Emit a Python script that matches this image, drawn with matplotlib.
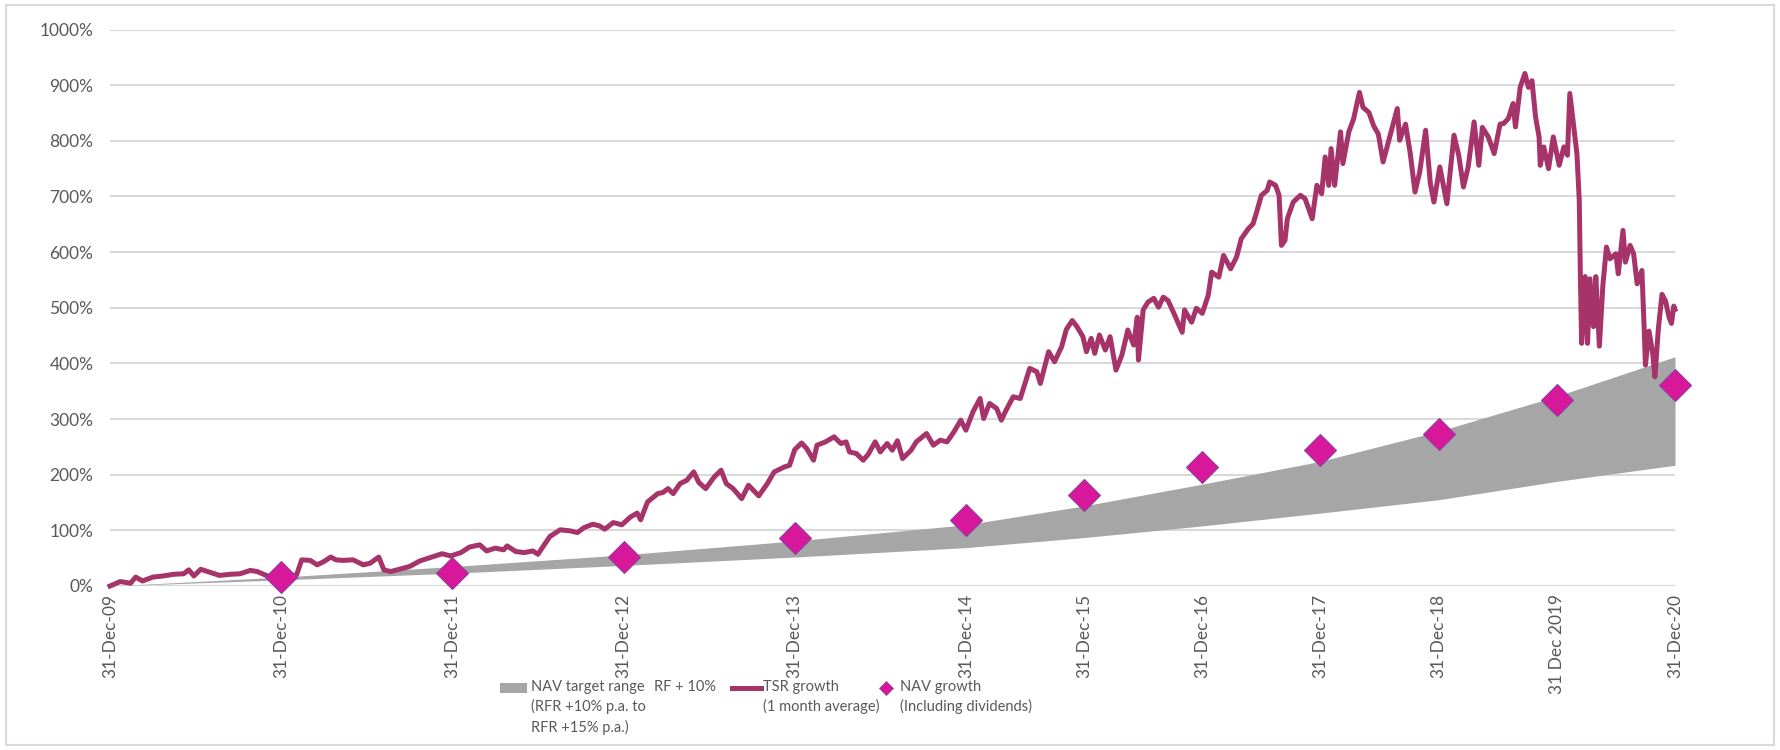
import numpy as np
import matplotlib
matplotlib.use("Agg")
import matplotlib.pyplot as plt
from matplotlib.lines import Line2D
from matplotlib.patches import Rectangle

plt.rcParams['font.family'] = ['Lato', 'DejaVu Sans']

# year-end tick labels (31 Dec 2009 .. 31 Dec 2020)
year_labels = ["31-Dec-09", "31-Dec-10", "31-Dec-11", "31-Dec-12", "31-Dec-13",
               "31-Dec-14", "31-Dec-15", "31-Dec-16", "31-Dec-17", "31-Dec-18",
               "31 Dec 2019", "31-Dec-20"]
year_num = [2010, 2011, 2012, 2013, 2014, 2015, 2016, 2017, 2018, 2019, 2020, 2021]
# observations per year in the source sheet (calendar days, later trading days)
obs_per_year = [365, 365, 365, 365, 365, 252, 252, 252, 252, 252, 252]

# NAV target range (RFR +10% p.a. to RFR +15% p.a.) at each year end, %
band_low = [0, 11, 23, 37, 52, 69, 87, 108, 131, 155, 188, 217]
band_high = [0, 16, 35, 56, 81, 110, 144, 183, 224, 278, 341, 412]

# NAV growth incl. dividends at year ends Dec-10 .. Dec-20, %
nav_pct = [17, 24, 52, 86, 119, 163, 214, 245, 274, 334, 361]

# TSR growth (1 month average): decimal year, %
tsr_year = [
    2010.00, 2010.06, 2010.12, 2010.15, 2010.19, 2010.25, 2010.31, 2010.37, 2010.43, 2010.46,
    2010.49, 2010.53, 2010.58, 2010.64, 2010.70, 2010.76, 2010.82, 2010.86, 2010.92, 2010.95,
    2011.00, 2011.05, 2011.09, 2011.12, 2011.17, 2011.21, 2011.25, 2011.29, 2011.32, 2011.36,
    2011.42, 2011.48, 2011.52, 2011.57, 2011.60, 2011.64, 2011.69, 2011.75, 2011.81, 2011.89,
    2011.94, 2011.99, 2012.05, 2012.10, 2012.16, 2012.20, 2012.25, 2012.30, 2012.32, 2012.37,
    2012.42, 2012.47, 2012.50, 2012.53, 2012.57, 2012.63, 2012.69, 2012.73, 2012.77, 2012.82,
    2012.86, 2012.89, 2012.94, 2012.99, 2013.04, 2013.08, 2013.10, 2013.14, 2013.20, 2013.23,
    2013.26, 2013.29, 2013.33, 2013.37, 2013.41, 2013.44, 2013.48, 2013.53, 2013.57, 2013.60,
    2013.64, 2013.69, 2013.73, 2013.79, 2013.84, 2013.88, 2013.94, 2013.97, 2014.00, 2014.04,
    2014.07, 2014.11, 2014.13, 2014.18, 2014.23, 2014.27, 2014.30, 2014.32, 2014.36, 2014.40,
    2014.43, 2014.47, 2014.50, 2014.54, 2014.57, 2014.60, 2014.63, 2014.68, 2014.71, 2014.77,
    2014.81, 2014.85, 2014.89, 2014.93, 2014.97, 2015.00, 2015.06, 2015.12, 2015.15, 2015.20,
    2015.26, 2015.30, 2015.34, 2015.40, 2015.46, 2015.54, 2015.60, 2015.63, 2015.70, 2015.75,
    2015.81, 2015.85, 2015.90, 2015.94, 2015.99, 2016.02, 2016.06, 2016.09, 2016.13, 2016.18,
    2016.22, 2016.27, 2016.32, 2016.37, 2016.42, 2016.45, 2016.46, 2016.50, 2016.54, 2016.59,
    2016.63, 2016.67, 2016.71, 2016.76, 2016.83, 2016.85, 2016.91, 2016.95, 2017.00, 2017.05,
    2017.08, 2017.14, 2017.18, 2017.24, 2017.29, 2017.33, 2017.39, 2017.43, 2017.46, 2017.50,
    2017.55, 2017.57, 2017.62, 2017.65, 2017.67, 2017.70, 2017.72, 2017.77, 2017.83, 2017.87,
    2017.93, 2017.97, 2018.01, 2018.04, 2018.07, 2018.09, 2018.12, 2018.17, 2018.19, 2018.24,
    2018.28, 2018.33, 2018.36, 2018.41, 2018.45, 2018.49, 2018.53, 2018.59, 2018.65, 2018.67,
    2018.72, 2018.76, 2018.80, 2018.84, 2018.89, 2018.93, 2018.96, 2019.01, 2019.07, 2019.13,
    2019.17, 2019.21, 2019.25, 2019.30, 2019.34, 2019.37, 2019.42, 2019.47, 2019.52, 2019.55,
    2019.59, 2019.63, 2019.65, 2019.69, 2019.73, 2019.76, 2019.79, 2019.82, 2019.85, 2019.86,
    2019.89, 2019.93, 2019.97, 2020.02, 2020.06, 2020.09, 2020.11, 2020.14, 2020.17, 2020.19,
    2020.20, 2020.21, 2020.24, 2020.26, 2020.28, 2020.31, 2020.33, 2020.36, 2020.39, 2020.42,
    2020.45, 2020.50, 2020.52, 2020.56, 2020.58, 2020.62, 2020.65, 2020.68, 2020.72, 2020.74,
    2020.75, 2020.78, 2020.81, 2020.83, 2020.86, 2020.89, 2020.92, 2020.95, 2020.97, 2020.99,
    2021.00]
tsr_pct = [
    0, 8, 5, 16, 9, 16, 18, 21, 22, 29,
    18, 30, 25, 19, 21, 22, 28, 26, 18, 17,
    17, 18, 20, 47, 46, 38, 44, 52, 47, 46,
    47, 38, 41, 52, 29, 26, 30, 35, 45, 53,
    58, 54, 60, 70, 74, 63, 68, 65, 72, 62,
    60, 63, 57, 71, 89, 101, 99, 96, 105, 111,
    108, 102, 114, 110, 124, 131, 119, 151, 166, 168,
    175, 166, 184, 190, 205, 186, 175, 196, 208, 184,
    175, 157, 181, 162, 184, 205, 214, 217, 245, 257,
    247, 226, 253, 259, 268, 256, 259, 241, 238, 226,
    237, 259, 241, 256, 244, 261, 229, 244, 259, 274,
    253, 262, 259, 277, 298, 280, 313, 337, 301, 328,
    319, 298, 316, 340, 337, 391, 385, 364, 421, 403,
    430, 461, 477, 466, 448, 421, 445, 418, 451, 424,
    448, 388, 415, 460, 433, 483, 406, 496, 510, 517,
    501, 519, 513, 490, 456, 496, 474, 499, 490, 522,
    564, 555, 594, 570, 591, 624, 642, 651, 672, 702,
    711, 726, 720, 702, 612, 621, 660, 690, 702, 696,
    660, 720, 705, 771, 720, 786, 720, 816, 759, 816,
    839, 887, 860, 851, 827, 812, 762, 810, 858, 801,
    830, 777, 708, 744, 819, 723, 690, 753, 687, 810,
    774, 717, 753, 834, 756, 824, 807, 777, 830, 831,
    840, 867, 825, 896, 921, 896, 908, 843, 807, 756,
    789, 750, 807, 756, 789, 774, 885, 831, 777, 693,
    549, 436, 556, 436, 552, 466, 556, 431, 541, 609,
    588, 597, 561, 639, 582, 612, 597, 543, 567, 458,
    397, 458, 420, 376, 464, 524, 512, 483, 472, 503,
    497]

TSR_COLOR = '#A6346A'
NAV_COLOR = '#D8189B'
BAND_COLOR = '#A6A6A6'
TEXT_COLOR = '#595959'
GRID_COLOR = '#D9D9D9'

# category-style axis: each observation takes the same width
edges = np.concatenate([[0], np.cumsum(obs_per_year)])


def to_pos(t):
    return np.interp(t, year_num, edges)


W, H = 1780, 750
fig = plt.figure(figsize=(W / 100, H / 100), dpi=100)
ax = fig.add_axes([110 / W, 1 - 586 / H, (1675 - 110) / W, (586 - 29.5) / H])

ax.fill_between(edges, band_low, band_high, color=BAND_COLOR, lw=0, zorder=2)
ax.plot(to_pos(tsr_year), tsr_pct, color=TSR_COLOR, lw=3.6, zorder=3,
        solid_joinstyle='round', clip_on=False)
ax.plot(edges[1:], nav_pct, ls='none', marker='D', ms=16, mfc=NAV_COLOR,
        mec='#8A3FA0', mew=0.8, zorder=4, clip_on=False)

ax.set_xlim(0, edges[-1])
ax.set_ylim(0, 1000)
ax.set_yticks(range(0, 1001, 100))
ax.set_yticklabels([f"{v}%" for v in range(0, 1001, 100)])
ax.set_xticks(edges)
ax.set_xticklabels(year_labels, rotation=90, va='top', ha='center')
ax.tick_params(length=0, colors=TEXT_COLOR, labelsize=12.5)
ax.tick_params(axis='y', pad=12)
ax.tick_params(axis='x', pad=6)
ax.yaxis.grid(True, color=GRID_COLOR, lw=1.5)
ax.set_axisbelow(True)
for s in ax.spines.values():
    s.set_visible(False)

# outer chart border
fig.add_artist(Rectangle((6 / W, 5 / H), 1768 / W, 740 / H, transform=fig.transFigure,
                         fill=False, ec=GRID_COLOR, lw=1.5))

# legend, built by hand so the keys sit on the first text line
leg_font = dict(size=10.5, color=TEXT_COLOR, va='top', ha='left', linespacing=1.45)
row_y = 688


def fx(x):
    return x / W


def fy(y):
    return 1 - y / H


fig.add_artist(Rectangle((fx(500), fy(row_y + 5)), 27 / W, 10 / H,
                         transform=fig.transFigure, color=BAND_COLOR, lw=0))
fig.text(fx(531), fy(row_y - 8), "NAV target range\n(RFR +10% p.a. to\nRFR +15% p.a.)", **leg_font)
fig.text(fx(654), fy(row_y - 8), "RF + 10%", **leg_font)
fig.add_artist(Line2D([fx(732), fx(761)], [fy(row_y), fy(row_y)], transform=fig.transFigure,
                      color=TSR_COLOR, lw=3.6))
fig.text(fx(763), fy(row_y - 8), "TSR growth\n(1 month average)", **leg_font)
fig.add_artist(Line2D([fx(886)], [fy(row_y)], transform=fig.transFigure, ls='none',
                      marker='D', ms=7, mfc=NAV_COLOR, mec='#8A3FA0', mew=0.5))
fig.text(fx(900), fy(row_y - 8), "NAV growth\n(Including dividends)", **leg_font)

fig.savefig("out.png", dpi=100, facecolor='white')
